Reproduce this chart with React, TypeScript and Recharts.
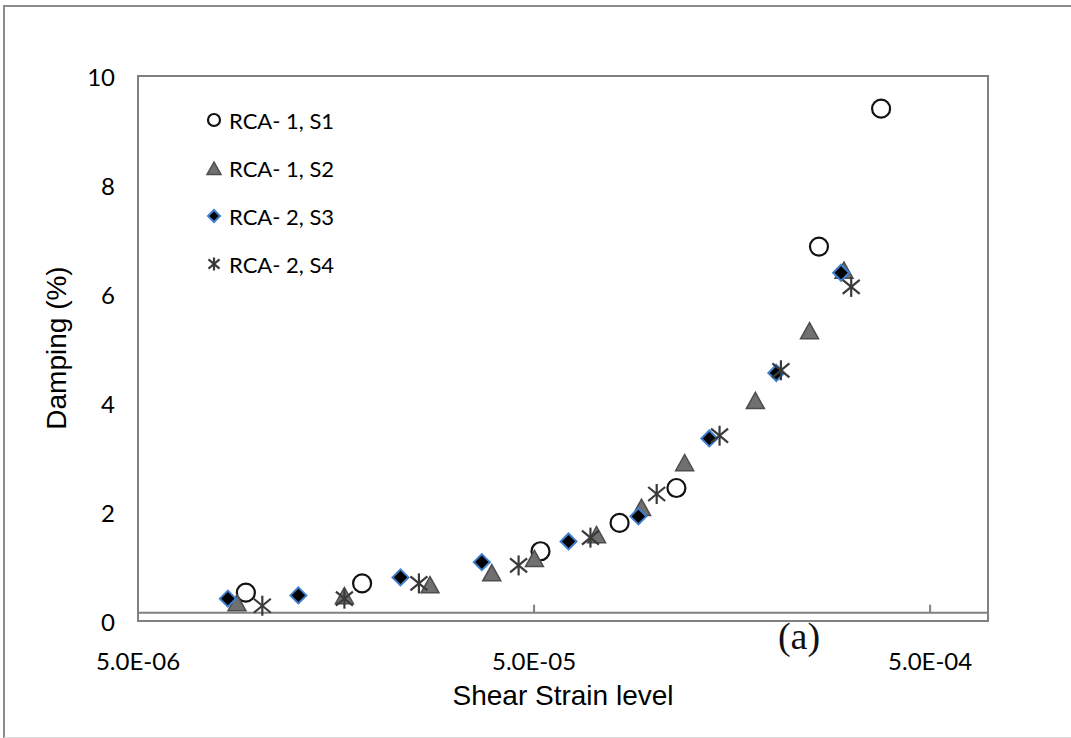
import React from 'react';
import {
  ScatterChart,
  Scatter,
  XAxis,
  YAxis,
  Legend,
  ReferenceLine,
  ReferenceArea,
} from 'recharts';

// ---- data ----
const xTicks = [5e-6, 5e-5, 5e-4];
const yTicks = [0, 2, 4, 6, 8, 10];
const seriesNames = ['RCA- 1, S1', 'RCA- 1, S2', 'RCA- 2, S3', 'RCA- 2, S4'];

const s1Strain = [9.36e-6, 1.84e-5, 5.19e-5, 8.22e-5, 1.144e-4, 2.62e-4, 3.76e-4];
const s1Damping = [0.52, 0.69, 1.28, 1.8, 2.44, 6.87, 9.4];

const s2Strain = [8.89e-6, 1.66e-5, 2.73e-5, 3.91e-5, 5.01e-5, 7.19e-5, 9.34e-5, 1.2e-4, 1.81e-4, 2.48e-4, 3.03e-4];
const s2Damping = [0.32, 0.45, 0.65, 0.87, 1.13, 1.57, 2.07, 2.89, 4.03, 5.31, 6.42];

const s3Strain = [8.43e-6, 1.27e-5, 2.3e-5, 3.69e-5, 6.11e-5, 9.17e-5, 1.385e-4, 2.045e-4, 2.98e-4];
const s3Damping = [0.41, 0.47, 0.8, 1.08, 1.46, 1.92, 3.35, 4.55, 6.39];

const s4Strain = [1.03e-5, 1.66e-5, 2.56e-5, 4.57e-5, 6.94e-5, 1.02e-4, 1.47e-4, 2.1e-4, 3.16e-4];
const s4Damping = [0.28, 0.41, 0.69, 1.02, 1.53, 2.33, 3.4, 4.6, 6.13];

const xDomain = [5e-6, 7e-4];
const yDomain = [0, 10];
const axisCrossY = 0.15;
const tickTopY = 0.3;

const zip = (xs: number[], ys: number[]) => xs.map((x, i) => ({ x, y: ys[i] }));
const s1 = zip(s1Strain, s1Damping);
const s2 = zip(s2Strain, s2Damping);
const s3 = zip(s3Strain, s3Damping);
const s4 = zip(s4Strain, s4Damping);

const fmtExp = (v: number) => {
  const [m, e] = v.toExponential(1).toUpperCase().split('E');
  const neg = e.startsWith('-');
  const digits = e.replace(/[-+]/, '').padStart(2, '0');
  return `${m}E${neg ? '-' : ''}${digits}`;
};

const GRAY = '#808080';

// ---- marker shapes ----
const Circle = ({ cx, cy, r = 9 }: any) => (
  <circle cx={cx} cy={cy} r={r} fill="none" stroke="#111" strokeWidth={2.2} />
);
const Triangle = ({ cx, cy, s = 9 }: any) => (
  <polygon
    points={`${cx},${cy - s} ${cx - s},${cy + s * 0.8} ${cx + s},${cy + s * 0.8}`}
    fill="#707070"
    stroke="#4d4d4d"
    strokeWidth={1.5}
  />
);
const Diamond = ({ cx, cy, s = 8 }: any) => (
  <polygon
    points={`${cx},${cy - s} ${cx + s},${cy} ${cx},${cy + s} ${cx - s},${cy}`}
    fill="#000"
    stroke="#3f7fcf"
    strokeWidth={2}
  />
);
const Asterisk = ({ cx, cy, s = 10 }: any) => (
  <g stroke="#3a3a3a" strokeWidth={2.2} strokeLinecap="butt">
    <line x1={cx} y1={cy - s} x2={cx} y2={cy + s} />
    <line x1={cx - s * 0.85} y1={cy - s * 0.7} x2={cx + s * 0.85} y2={cy + s * 0.7} />
    <line x1={cx - s * 0.85} y1={cy + s * 0.7} x2={cx + s * 0.85} y2={cy - s * 0.7} />
  </g>
);

const legendShapes = [
  (c: number) => <Circle cx={c} cy={c} r={6} />,
  (c: number) => <Triangle cx={c} cy={c + 1} s={7} />,
  (c: number) => <Diamond cx={c} cy={c} s={6} />,
  (c: number) => <Asterisk cx={c} cy={c} s={6.5} />,
];

const renderLegend = () => (
  <div style={{ fontFamily: 'Lato, sans-serif', fontSize: 22, color: '#000' }}>
    {seriesNames.map((name, i) => (
      <div key={name} style={{ display: 'flex', alignItems: 'center', height: 48 }}>
        <svg width={20} height={20} style={{ marginRight: 5 }}>
          {legendShapes[i](10)}
        </svg>
        <span>{name}</span>
      </div>
    ))}
  </div>
);

const XTick = ({ x, y, payload }: any) => (
  <text
    x={x}
    y={y}
    textAnchor="middle"
    dominantBaseline="central"
    fontFamily="Lato, sans-serif"
    fontSize={24}
    fill="#000"
  >
    {fmtExp(payload.value)}
  </text>
);

const YTick = ({ x, y, payload }: any) => (
  <text
    x={x}
    y={y}
    textAnchor="end"
    dominantBaseline="central"
    fontFamily="Lato, sans-serif"
    fontSize={24}
    fill="#000"
  >
    {payload.value}
  </text>
);

export default function App() {
  return (
    <div
      style={{
        position: 'absolute',
        left: 0,
        top: 0,
        width: 1071,
        height: 738,
        overflow: 'hidden',
        background: '#fff',
      }}
    >
      <div
        style={{
          position: 'absolute',
          left: 3,
          top: 5,
          width: 1068,
          height: 733,
          boxSizing: 'border-box',
          borderTop: '2px solid #8c8c8c',
          borderLeft: '2px solid #8c8c8c',
          borderBottom: '1px solid #dddddd',
        }}
      />
      <div style={{ position: 'absolute', left: 0, top: 0 }}>
        <ScatterChart width={1071} height={738} margin={{ top: 76, right: 83, bottom: 0, left: 0 }}>
          <XAxis
            dataKey="x"
            type="number"
            scale="log"
            domain={xDomain}
            allowDataOverflow
            ticks={xTicks}
            axisLine={false}
            tickLine={false}
            tickSize={0}
            tickMargin={39}
            height={117}
            tick={<XTick />}
            interval={0}
          />
          <YAxis
            dataKey="y"
            type="number"
            domain={yDomain}
            ticks={yTicks}
            axisLine={false}
            tickLine={false}
            tickSize={0}
            tickMargin={23}
            width={138}
            tick={<YTick />}
            interval={0}
          />
          <ReferenceArea
            x1={xDomain[0]}
            x2={xDomain[1]}
            y1={yDomain[0]}
            y2={yDomain[1]}
            fill="none"
            stroke={GRAY}
            strokeWidth={2}
            fillOpacity={0}
          />
          <ReferenceLine y={axisCrossY} stroke={GRAY} strokeWidth={2} />
          {xTicks.slice(1).map((t) => (
            <ReferenceLine
              key={t}
              segment={[
                { x: t, y: axisCrossY },
                { x: t, y: tickTopY },
              ]}
              stroke={GRAY}
              strokeWidth={2}
            />
          ))}
          <Legend
            layout="vertical"
            align="center"
            verticalAlign="middle"
            content={renderLegend}
            wrapperStyle={{ left: 204, top: 96, width: 'auto', height: 'auto' }}
          />
          <Scatter name={seriesNames[0]} data={s1} shape={<Circle />} isAnimationActive={false} />
          <Scatter name={seriesNames[1]} data={s2} shape={<Triangle />} isAnimationActive={false} />
          <Scatter name={seriesNames[2]} data={s3} shape={<Diamond />} isAnimationActive={false} />
          <Scatter name={seriesNames[3]} data={s4} shape={<Asterisk />} isAnimationActive={false} />
        </ScatterChart>
      </div>
      <svg
        width={1071}
        height={738}
        style={{ position: 'absolute', left: 0, top: 0, pointerEvents: 'none' }}
      >
        <text
          x={56}
          y={348}
          transform="rotate(-90, 56, 348)"
          textAnchor="middle"
          dominantBaseline="central"
          fontFamily="'Liberation Sans', Arial, sans-serif"
          fontSize={28}
          fill="#000"
        >
          Damping (%)
        </text>
        <text
          x={563}
          y={695}
          textAnchor="middle"
          dominantBaseline="central"
          fontFamily="'Liberation Sans', Arial, sans-serif"
          fontSize={28}
          fill="#000"
        >
          Shear Strain level
        </text>
        <text
          x={799}
          y={636}
          textAnchor="middle"
          dominantBaseline="central"
          fontFamily="'Liberation Serif', 'Times New Roman', serif"
          fontSize={38}
          fill="#111"
        >
          (a)
        </text>
      </svg>
    </div>
  );
}
